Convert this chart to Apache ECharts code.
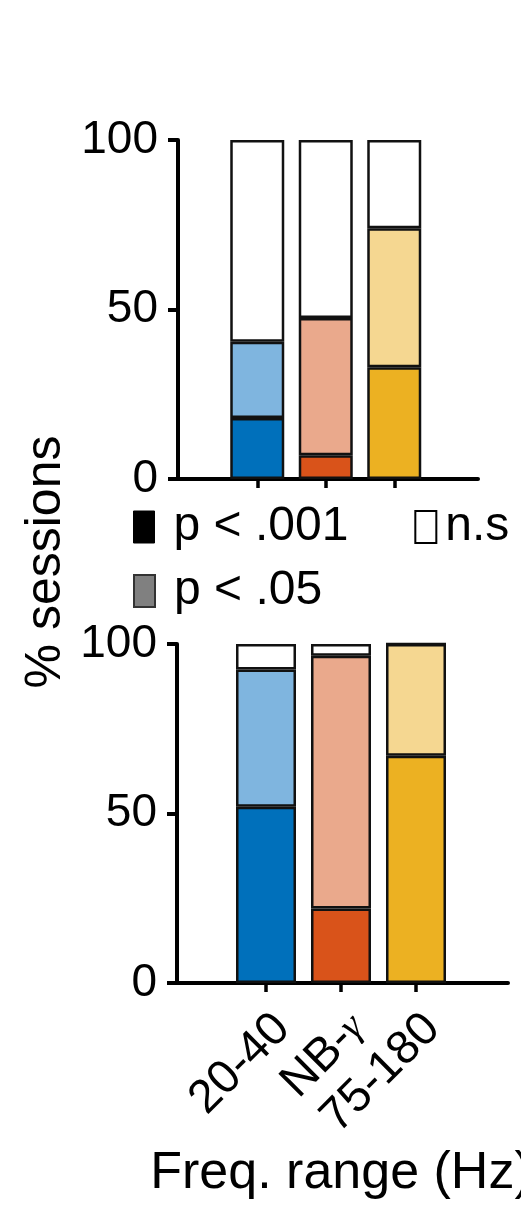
<!DOCTYPE html>
<html>
<head>
<meta charset="utf-8">
<script src="https://cdn.jsdelivr.net/npm/echarts@6/dist/echarts.min.js"></script>
<style>
html, body { margin: 0; padding: 0; background: #fff; }
#chart { width: 521px; height: 1211px; }
</style>
</head>
<body>
<div id="chart"></div>
<script>
// categories and stacked segment sizes (% sessions)
var categories = ['20-40', 'NB-γ', '75-180'];
var topStrong = [18, 7, 33];
var topWeak = [22.5, 40.5, 41];
var topNs = [59.5, 52.5, 26];
var botStrong = [52, 22, 67];
var botWeak = [40.5, 74.5, 33];
var botNs = [7.5, 3.5, 0];
var yTicks = [0, 50, 100];

var darkColors = ['#0070BB', '#D9531A', '#ECB122'];
var lightColors = ['#7FB5DF', '#EAA98C', '#F5D791'];
var nsColors = ['#fff', '#fff', '#fff'];

var FONT = 'Liberation Sans, Arial, sans-serif';
var myChart = echarts.init(document.getElementById('chart'));

// grid 0 / 2 carry the y axis and the long x axis line, grid 1 / 3 hold the bars
function makeSeries(name, stack, idx, values, colors, barWidth) {
    return {
        name: name,
        type: 'bar',
        stack: stack,
        xAxisIndex: idx,
        yAxisIndex: idx,
        barWidth: barWidth,
        silent: true,
        data: values.map(function (v, i) {
            return {
                value: v,
                itemStyle: { color: colors[i], borderColor: '#111', borderWidth: 2.5 }
            };
        })
    };
}

function frameX(idx) {
    return {
        type: 'value', gridIndex: idx, min: 0, max: 1,
        axisLine: { show: true, onZero: false, lineStyle: { color: '#000', width: 4 } },
        axisTick: { show: false }, axisLabel: { show: false }, splitLine: { show: false }
    };
}

function frameY(idx) {
    return {
        type: 'value', gridIndex: idx,
        min: yTicks[0], max: yTicks[2], interval: 50,
        axisLine: { show: true, onZero: false, lineStyle: { color: '#000', width: 4 } },
        axisTick: { show: true, length: 10, lineStyle: { color: '#000', width: 4 } },
        axisLabel: { fontSize: 46, fontFamily: FONT, color: '#000', margin: 20 },
        splitLine: { show: false }
    };
}

function barX(idx, withLabels) {
    var ax = {
        type: 'category', gridIndex: idx, data: categories, boundaryGap: true,
        axisLine: { show: false },
        axisTick: { show: true, alignWithLabel: true, length: 9, lineStyle: { color: '#000', width: 3.5 } },
        axisLabel: { show: false },
        splitLine: { show: false }
    };
    if (withLabels) {
        ax.axisLabel = {
            show: true,
            interval: 0,
            rotate: 45,
            align: 'right',
            verticalAlign: 'top',
            margin: 22,
            formatter: function (c) {
                if (c.indexOf('γ') >= 0) return '{a|' + c.replace('γ', '') + '}{g|γ}';
                return '{a|' + c + '}';
            },
            rich: {
                a: { fontSize: 47, fontFamily: FONT, color: '#000' },
                g: { fontSize: 40, fontFamily: 'Liberation Serif, serif', fontStyle: 'italic', color: '#000' }
            }
        };
        ax.name = 'Freq. range (Hz)';
        ax.nameLocation = 'middle';
        ax.nameGap = 165;
        ax.nameTextStyle = { fontSize: 52, fontFamily: FONT, color: '#000' };
    }
    return ax;
}

function barY(idx) {
    return { type: 'value', gridIndex: idx, min: 0, max: 100, show: false };
}

var option = {
    backgroundColor: '#fff',
    animation: false,
    grid: [
        { left: 178, top: 140, width: 300, height: 339, outerBoundsMode: 'none' },
        { left: 223, top: 140, width: 205.5, height: 339, outerBoundsMode: 'none' },
        { left: 177, top: 644, width: 331, height: 339, outerBoundsMode: 'none' },
        { left: 228.5, top: 644, width: 225, height: 339, outerBoundsMode: 'none' }
    ],
    xAxis: [frameX(0), barX(1, false), frameX(2), barX(3, true)],
    yAxis: [frameY(0), barY(1), frameY(2), barY(3)],
    legend: [
        {
            left: 133, top: 503, padding: 0, itemGap: 66,
            itemWidth: 21, itemHeight: 32, icon: 'rect', selectedMode: false,
            textStyle: { fontSize: 48, fontFamily: FONT, color: '#000', lineHeight: 48, padding: [0, 0, 0, 14] },
            data: [
                { name: 'p < .001', itemStyle: { color: '#000', borderColor: '#000', borderWidth: 1 } },
                { name: 'n.s', itemStyle: { color: '#fff', borderColor: '#000', borderWidth: 2 },
                  textStyle: { padding: [0, 0, 0, 4] } }
            ]
        },
        {
            left: 133, top: 567, padding: 0,
            itemWidth: 21, itemHeight: 32, icon: 'rect', selectedMode: false,
            textStyle: { fontSize: 48, fontFamily: FONT, color: '#000', lineHeight: 48, padding: [0, 0, 0, 14] },
            data: [
                { name: 'p < .05', itemStyle: { color: '#808080', borderColor: '#333', borderWidth: 2 } }
            ]
        }
    ],
    graphic: [{
        type: 'text',
        x: 46,
        y: 562,
        rotation: Math.PI / 2,
        style: {
            text: '% sessions',
            font: '50px ' + FONT,
            fill: '#000',
            textAlign: 'center',
            textVerticalAlign: 'middle'
        }
    }],
    series: [
        makeSeries('p < .001', 'top', 1, topStrong, darkColors, 54),
        makeSeries('p < .05', 'top', 1, topWeak, lightColors, 54),
        makeSeries('n.s', 'top', 1, topNs, nsColors, 54),
        makeSeries('p < .001', 'bot', 3, botStrong, darkColors, 60),
        makeSeries('p < .05', 'bot', 3, botWeak, lightColors, 60),
        makeSeries('n.s', 'bot', 3, botNs, nsColors, 60)
    ]
};
myChart.setOption(option);
</script>
</body>
</html>
